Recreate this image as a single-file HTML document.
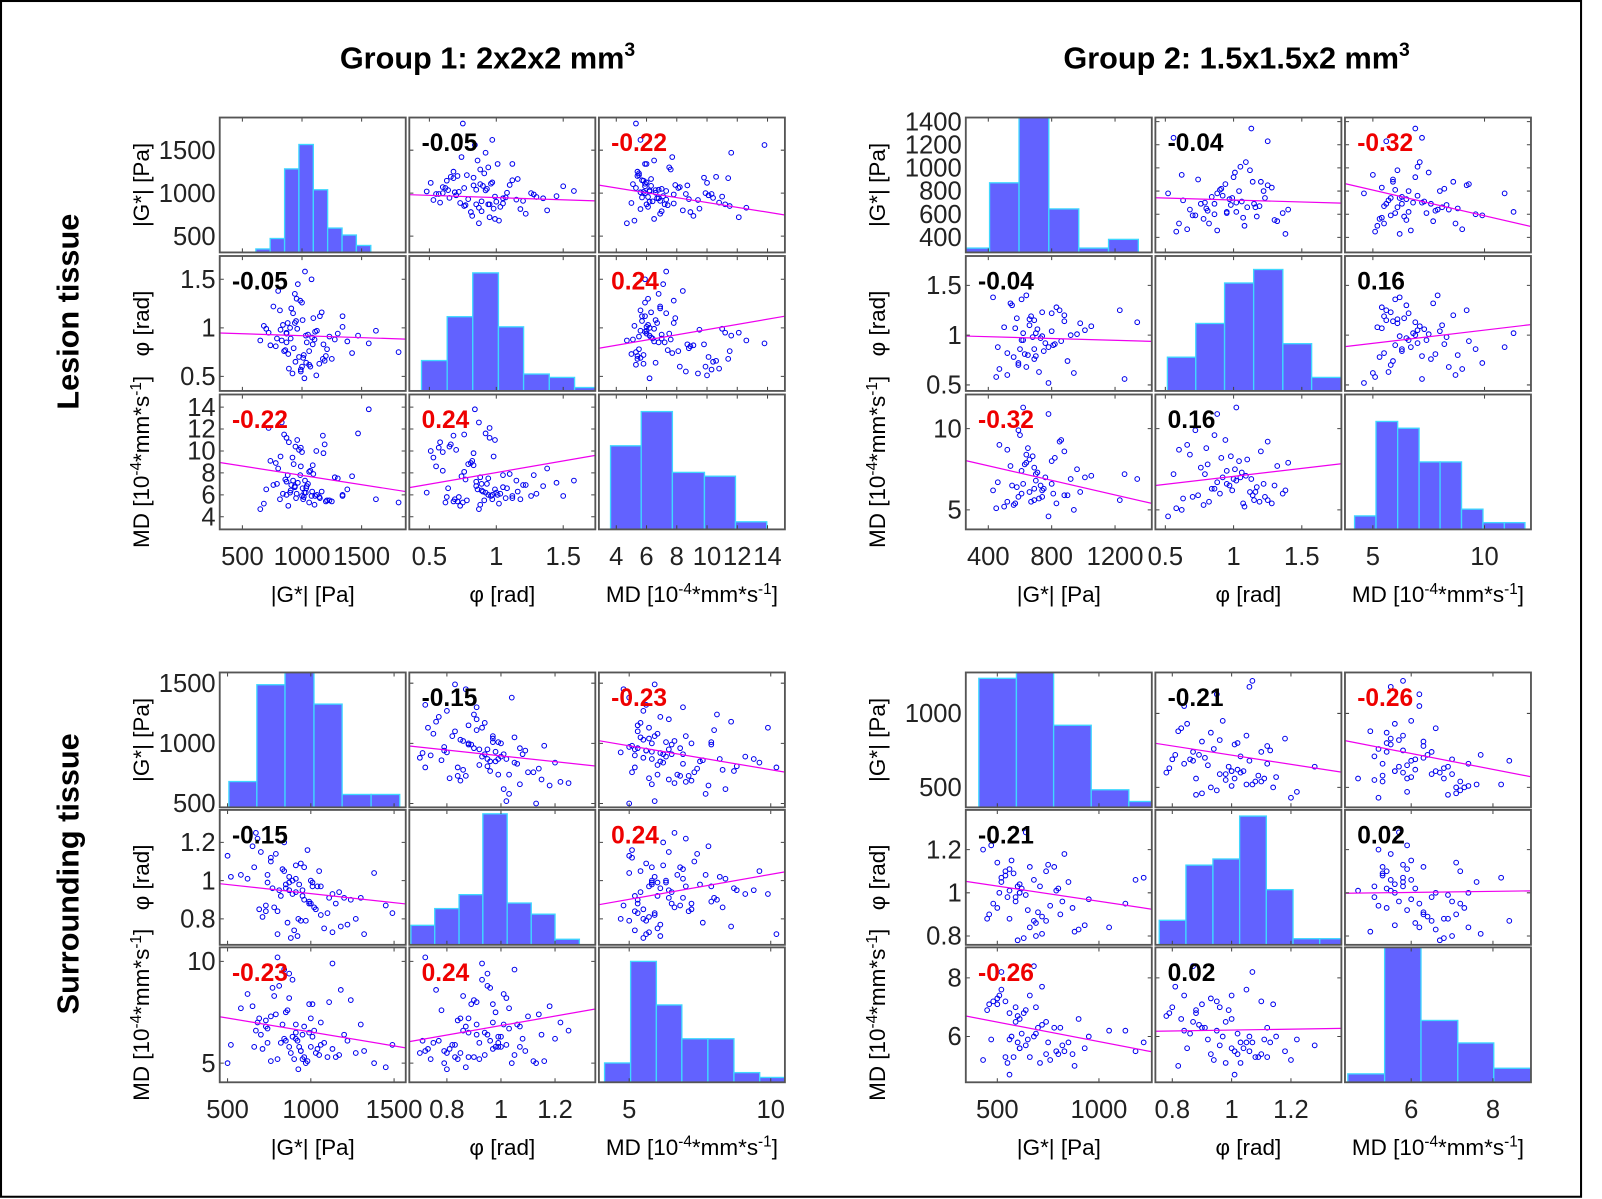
<!DOCTYPE html>
<html><head><meta charset="utf-8"><title>Scatter matrices</title>
<style>
html,body{margin:0;padding:0;background:#fff;}
svg{display:block;}
text{font-family:"Liberation Sans",Arial,sans-serif;}
</style></head>
<body>
<svg id="fig" width="1602" height="1199" viewBox="0 0 1567.5 1173.2" preserveAspectRatio="none" xmlns="http://www.w3.org/2000/svg">
<rect x="1" y="1" width="1546" height="1170" fill="#fff" stroke="#000" stroke-width="2"/>
<text x="477" y="67" text-anchor="middle" font-size="30" font-weight="bold">Group 1: 2x2x2 mm<tspan font-size="19" dy="-12">3</tspan></text>
<text x="1210" y="67" text-anchor="middle" font-size="30" font-weight="bold">Group 2: 1.5x1.5x2 mm<tspan font-size="19" dy="-12">3</tspan></text>
<text transform="translate(77,305) rotate(-90)" text-anchor="middle" font-size="30" font-weight="bold">Lesion tissue</text>
<text transform="translate(77,855) rotate(-90)" text-anchor="middle" font-size="30" font-weight="bold">Surrounding tissue</text>
<g id="plots"></g>
</svg>
<script>
// ===== Group 1, lesion tissue =====
const g1lG = [1032,880,1210,945,760,1105,990,1340,870,1015, 925,1180,700,1060,830,955,1420,1110,890,1005, 780,1250,965,1085,850,1150,920,1040,680,1300, 975,1125,815,1070,905,1560,1000,860,1190,940, 1230,735,1020,1095,885,960,1380,800,1145,1050, 910,1810,990,840,1275,1010,720,1165,930,1080, 870,1470,950,1035,820,1200,985,650,1120,900, 1060,1340,790,1000,1620,940,1090,870,1175,1025];
const g1lPhi = [0.92,1.05,0.78,0.65,1.22,0.88,0.55,1.01,0.95,0.72, 1.15,0.83,0.99,0.62,0.87,1.30,0.74,0.96,0.58,1.08, 0.81,0.68,1.45,0.90,0.76,1.12,0.53,0.85,1.02,0.94, 0.70,0.97,1.18,0.60,0.89,0.84,1.26,0.77,0.66,1.05, 0.91,0.82,0.48,1.10,0.73,0.99,0.86,1.38,0.63,0.93, 1.20,0.75,0.57,1.03,0.88,0.69,0.95,1.16,0.79,1.50, 0.85,0.92,1.07,0.64,0.98,0.71,1.28,0.87,0.51,1.00, 0.76,1.12,0.89,0.60,0.97,1.35,0.83,0.94,0.68,1.58];
const g1lMD = [6.2,7.8,5.5,10.4,6.9,5.1,8.6,6.0,11.2,5.8, 7.3,9.8,6.5,5.3,12.6,6.1,7.7,5.9,10.8,6.6, 8.9,5.4,7.1,6.3,11.5,5.7,9.4,6.8,5.2,7.5, 10.1,6.0,5.6,8.2,6.4,13.8,5.9,7.4,10.6,6.7, 5.5,9.1,6.2,7.9,5.0,11.0,6.5,8.4,5.8,7.0, 6.9,5.3,10.3,6.1,7.6,5.6,12.1,6.3,8.8,5.9, 7.2,11.6,5.7,6.6,9.5,5.4,7.8,4.7,10.0,6.2, 8.1,5.9,7.0,9.9,5.6,6.8,8.7,6.0,11.4,7.3];
const g1lHistGEdges = [613,733,854,974,1095,1215,1336,1456,1577];
const g1lHistGCounts = [1,4,24,31,18,7,5,2];
const g1lHistPhiEdges = [0.441,0.633,0.824,1.016,1.204,1.396,1.585,1.775];
const g1lHistPhiCounts = [9,22,35,19,5,4,1];
const g1lHistMDEdges = [3.62,5.65,7.71,9.83,11.88,13.95];
const g1lHistMDCounts = [22,31,15,14,2];
const g1lCorr = [-0.05,-0.22,0.24];
const g1lSig = [0,1,1];
const g1lFitLeft = [982,1093,0.947,0.79,8.95,6.66];
const g1lFitRight = [910,746,0.884,1.12,6.3,9.6];

// ===== Group 2, lesion tissue =====
const g2lG = [700,520,850,610,940,660,430,780,590,1010, 730,880,560,640,810,470,690,1260,620,750, 540,900,680,800,450,710,600,980,650,830, 760,580,1230,640,920,500,690,860,610,720, 800,460,670,1050,590,740,880,630,550,780, 690,960,520,740,620,1340,700,570,820,660];
const g2lPhi = [1.02,0.82,1.25,0.95,0.62,1.10,1.38,0.88,0.70,1.05, 0.97,1.20,0.78,1.40,0.90,0.66,1.15,0.56,1.02,0.84, 1.32,0.74,0.98,1.22,0.58,1.06,0.86,1.12,0.80,1.28, 0.92,1.17,1.25,0.68,1.00,1.08,0.76,0.94,1.36,0.63, 1.04,0.88,1.19,1.09,0.72,0.99,1.14,0.81,1.30,0.52, 0.86,1.01,0.60,1.23,0.95,1.13,0.79,1.07,0.91,1.16];
const g2lMD = [6.8,5.5,9.2,7.4,5.0,8.1,6.2,10.9,5.8,7.0, 6.5,8.6,5.3,7.9,6.0,9.0,5.6,7.2,11.3,6.3, 7.7,5.9,8.3,6.6,5.1,7.3,9.6,6.1,8.8,5.4, 7.0,6.4,5.6,8.4,6.9,5.2,7.6,9.3,6.0,5.7, 8.0,6.7,5.5,7.1,9.9,6.2,5.9,7.8,6.5,4.6, 6.3,7.5,8.7,5.8,6.6,6.9,7.2,5.4,8.2,6.1];
const g2lHistGEdges = [258,408,594,782,971,1159,1347];
const g2lHistGCounts = [1,16,34,10,1,3];
const g2lHistPhiEdges = [0.515,0.723,0.934,1.147,1.361,1.572,1.789];
const g2lHistPhiCounts = [5,10,16,18,7,2];
const g2lHistMDEdges = [4.18,5.14,6.11,7.07,8.01,8.97,9.93,10.89,11.81];
const g2lHistMDCounts = [2,16,15,10,10,3,1,1];
const g2lCorr = [-0.04,-0.32,0.16];
const g2lSig = [0,1,0];
const g2lFitLeft = [742,864,0.991,0.885,8.03,6.50];
const g2lFitRight = [696,494,0.938,1.106,5.40,7.84];

// ===== Group 1, surrounding tissue =====
const g1sG = [820,1050,690,930,1180,760,990,870,1320,910, 1100,650,850,970,740,1240,880,1010,790,1450, 960,710,1130,840,900,1060,520,780,1200,940, 860,1000,670,1150,810,920,1380,730,1040,890, 700,990,1270,830,950,620,1080,870,760,1020, 1170,800,910,1490,850,980,730,1110,940,580, 890,1030,770,1220,680,960,840,1060,910,500, 1000,740,1130,870,950,800,1300,660,1010,925];
const g1sPhi = [0.92,1.05,0.85,0.98,0.76,1.12,0.88,0.95,0.72,1.01, 0.83,1.18,0.96,0.79,1.03,0.90,0.70,0.99,1.14,0.87, 1.07,0.81,0.93,1.20,0.74,0.97,1.02,0.86,0.91,1.09, 0.78,1.00,1.25,0.88,0.95,0.71,1.04,0.84,0.97,0.93, 1.15,0.89,0.80,1.06,0.92,1.01,0.75,0.99,1.10,0.86, 0.94,0.72,1.08,0.83,0.98,1.16,0.87,0.91,0.79,1.03, 1.00,0.85,0.96,0.77,1.22,0.90,1.05,0.82,0.94,1.13, 0.88,0.99,0.73,1.02,0.95,0.84,0.91,1.07,0.97,0.80];
const g1sMD = [6.0,5.4,7.2,5.8,8.6,5.1,6.5,9.4,5.6,6.9, 5.3,7.8,6.1,5.0,6.7,8.1,5.5,6.3,7.4,4.8, 6.8,5.7,9.9,6.2,5.2,7.0,5.9,8.3,6.4,5.6, 7.6,5.8,6.6,5.3,8.8,6.1,5.0,7.1,5.7,9.1, 6.4,7.9,5.5,6.9,5.2,8.4,6.0,5.8,7.3,6.6, 5.4,10.2,6.2,5.9,7.5,5.1,6.8,8.0,5.6,7.7, 6.3,5.5,8.7,6.1,7.0,5.3,9.6,5.9,6.5,5.0, 7.2,6.0,5.7,8.2,6.4,5.2,6.9,5.8,7.9,4.7];
const g1sHistGEdges = [508,676,845,1019,1188,1362,1534];
const g1sHistGCounts = [4,19,23,16,2,2];
const g1sHistPhiEdges = [0.667,0.755,0.845,0.933,1.023,1.112,1.200,1.290];
const g1sHistPhiCounts = [7,13,18,47,15,11,2];
const g1sHistMDEdges = [4.13,5.05,5.96,6.86,7.78,8.70,9.61,10.5];
const g1sHistMDCounts = [4,25,16,9,9,2,1];
const g1sCorr = [-0.15,-0.23,0.24];
const g1sSig = [0,1,1];
const g1sFitLeft = [978,1022,0.984,0.874,7.28,6.06];
const g1sFitRight = [812,761,0.878,1.046,5.75,7.66];

// ===== Group 2, surrounding tissue =====
const g2sG = [620,480,740,560,850,690,430,590,930,520, 650,780,510,1180,600,710,460,820,570,680, 540,900,640,750,500,610,1050,560,720,830, 590,470,690,800,1220,630,540,760,610,880, 700,520,640,950,580,450,790,660,560,1130, 610,740,500,870,680,550,720,600,810,660];
const g2sPhi = [1.02,0.95,1.10,0.88,1.05,0.80,1.20,0.98,0.85,1.07, 0.92,1.12,1.00,1.06,0.78,1.03,0.90,0.96,1.15,0.87, 1.08,0.83,0.99,1.13,0.93,1.04,0.84,1.01,0.89,1.18, 0.96,1.22,0.86,1.02,1.07,0.79,1.10,0.94,1.00,0.82, 0.91,1.05,1.28,0.97,1.09,0.88,1.01,0.84,1.11,0.95, 1.00,0.87,1.14,0.93,1.06,0.98,0.81,1.03,0.90,1.12];
const g2sMD = [6.1,7.2,5.4,6.8,5.8,7.0,5.2,6.5,5.6,8.2, 5.9,6.3,7.4,5.5,6.7,5.1,7.1,5.7,6.0,8.4, 5.3,6.6,6.9,5.8,7.3,5.6,6.2,4.7,6.4,5.5, 7.0,5.9,6.1,5.4,5.8,6.8,7.2,5.2,6.6,5.0, 6.3,7.6,5.7,6.0,5.3,6.9,5.5,7.4,5.9,6.2, 5.6,6.5,7.1,5.4,6.0,5.1,7.7,5.8,6.3,5.3];
const g2sHistGEdges = [409,594,777,962,1147,1332];
const g2sHistGCounts = [22,25,14,3,1];
const g2sHistPhiEdges = [0.756,0.846,0.937,1.027,1.117,1.207,1.297,1.388];
const g2sHistPhiCounts = [4,13,14,21,9,1,1];
const g2sHistMDEdges = [4.45,5.35,6.24,7.14,8.02,8.93];
const g2sHistMDCounts = [3,52,22,14,5];
const g2sCorr = [-0.21,-0.26,0.02];
const g2sSig = [0,1,0];
const g2sFitLeft = [798,816,1.053,0.998,6.70,6.18];
const g2sFitRight = [603,572,0.924,1.009,5.48,6.28];

// ===== axis settings =====
const g1lXTicks = [[500,1000,1500],[0.5,1,1.5],[4,6,8,10,12,14]];
const g1lYTicks = [[500,1000,1500],[0.5,1,1.5],[4,6,8,10,12,14]];
const g2lXTicks = [[400,800,1200],[0.5,1,1.5],[5,10]];
const g2lYTicks = [[400,600,800,1000,1200,1400],[0.5,1,1.5],[5,10]];
const g1sXTicks = [[500,1000,1500],[0.8,1,1.2],[5,10]];
const g1sYTicks = [[500,1000,1500],[0.8,1,1.2],[5,10]];
const g2sXTicks = [[500,1000],[0.8,1,1.2],[6,8]];
const g2sYTicks = [[500,1000],[0.8,1,1.2],[6,8]];

const matrices = [
 {key:'g1-lesion', x0:215, y0:115, dy:135.5, ttl:77,
  data:[g1lG,g1lPhi,g1lMD], xR:[[310,1870],[0.35,1.74],[2.85,15.15]], yR:[[310,1880],[0.35,1.74],[2.85,15.15]],
  hE:[g1lHistGEdges,g1lHistPhiEdges,g1lHistMDEdges], hC:[g1lHistGCounts,g1lHistPhiCounts,g1lHistMDCounts], hMax:[38.75,40,35.5],
  corr:g1lCorr, sig:g1lSig, fl:g1lFitLeft, fr:g1lFitRight, xt:g1lXTicks, yt:g1lYTicks},
 {key:'g2-lesion', x0:945, y0:115, dy:135.5, ttl:87,
  data:[g2lG,g2lPhi,g2lMD], xR:[[258,1432],[0.427,1.79],[3.75,12.08]], yR:[[270,1435],[0.44,1.795],[3.8,12.1]],
  hE:[g2lHistGEdges,g2lHistPhiEdges,g2lHistMDEdges], hC:[g2lHistGCounts,g2lHistPhiCounts,g2lHistMDCounts], hMax:[31,20,20],
  corr:g2lCorr, sig:g2lSig, fl:g2lFitLeft, fr:g2lFitRight, xt:g2lXTicks, yt:g2lYTicks},
 {key:'g1-surrounding', x0:215, y0:658, dy:134.5, ttl:77,
  data:[g1sG,g1sPhi,g1sMD], xR:[[453,1570],[0.661,1.349],[3.93,10.5]], yR:[[468,1589],[0.664,1.37],[4.06,10.69]],
  hE:[g1sHistGEdges,g1sHistPhiEdges,g1sHistMDEdges], hC:[g1sHistGCounts,g1sHistPhiCounts,g1sHistMDCounts], hMax:[20.9,48.4,27.9],
  corr:g1sCorr, sig:g1sSig, fl:g1sFitLeft, fr:g1sFitRight, xt:g1sXTicks, yt:g1sYTicks},
 {key:'g2-surrounding', x0:945, y0:658, dy:134.5, ttl:87,
  data:[g2sG,g2sPhi,g2sMD], xR:[[345,1260],[0.743,1.37],[4.38,8.93]], yR:[[365,1277],[0.759,1.384],[4.44,9.04]],
  hE:[g2sHistGEdges,g2sHistPhiEdges,g2sHistMDEdges], hC:[g2sHistGCounts,g2sHistPhiCounts,g2sHistMDCounts], hMax:[23,22,48],
  corr:g2sCorr, sig:g2sSig, fl:g2sFitLeft, fr:g2sFitRight, xt:g2sXTicks, yt:g2sYTicks}
];

const NS = 'http://www.w3.org/2000/svg';
const root = document.getElementById('plots');
function mk(tag, attrs, parent){
  const e = document.createElementNS(NS, tag);
  for (const k in attrs) e.setAttribute(k, attrs[k]);
  (parent||root).appendChild(e);
  return e;
}
const PW = 182, PH = 132, DX = 185.5;
const varNames = ['g','phi','md'];
const fitKeys = ['01','02','10','12','20','21'];
const pairIdx = {'01':0,'10':0,'02':1,'20':1,'12':2,'21':2};
let clipId = 0;

function addTitle(parent, kind, x, y, rotate, name){
  const t = mk('text', {'text-anchor':'middle','font-size':'22',
    transform: rotate ? `translate(${x},${y}) rotate(-90)` : `translate(${x},${y})`}, parent);
  
  
  if (kind === 0) { t.textContent = '|G*| [Pa]'; }
  else if (kind === 1) { t.textContent = 'φ [rad]'; }
  else {
    t.appendChild(document.createTextNode('MD [10'));
    const s1 = mk('tspan', {'font-size':'15', dy:'-8'}, t); s1.textContent = '-4';
    const s2 = mk('tspan', {dy:'8'}, t); s2.textContent = '*mm*s';
    const s3 = mk('tspan', {'font-size':'15', dy:'-8'}, t); s3.textContent = '-1';
    const s4 = mk('tspan', {dy:'8'}, t); s4.textContent = ']';
  }
}

matrices.forEach(m => {
  const g = mk('g', {});
  
  
  for (let r = 0; r < 3; r++) {
    for (let c = 0; c < 3; c++) {
      const px = m.x0 + c*DX, py = m.y0 + r*m.dy;
      const xr = m.xR[c];
      const sx = v => px + (v - xr[0]) / (xr[1] - xr[0]) * PW;
      const pg = mk('g', {}, g);
      
      
      clipId++;
      const cp = mk('clipPath', {id:'cp'+clipId}, pg);
      mk('rect', {x:px, y:py, width:PW, height:PH}, cp);
      const inner = mk('g', {'clip-path':`url(#cp${clipId})`}, pg);
      if (r === c) {
        const edges = m.hE[r], counts = m.hC[r], ymax = m.hMax[r];
        const sy = v => py + PH - v / ymax * PH;
        counts.forEach((cnt, i) => {
          const x1 = sx(edges[i]), x2 = sx(edges[i+1]);
          const b = mk('rect', {x:x1, y:sy(cnt), width:x2-x1, height:py+PH-sy(cnt), fill:'#6262ff', stroke:'#3fd8ff', 'stroke-width':'1.3'}, inner);
          
          
        });
      } else {
        const yr = m.yR[r];
        const sy = v => py + PH - (v - yr[0]) / (yr[1] - yr[0]) * PH;
        const xs = m.data[c], ys = m.data[r];
        xs.forEach((xv, i) => {
          const pt = mk('circle', {cx:sx(xv), cy:sy(ys[i]), r:'2.3', fill:'none', stroke:'#0000ee', 'stroke-width':'1'}, inner);
          
          
        });
        const fi = fitKeys.indexOf(`${r}${c}`);
        const ln = mk('line', {x1:sx(xr[0]), y1:sy(m.fl[fi]), x2:sx(xr[1]), y2:sy(m.fr[fi]), stroke:'#ee00ee', 'stroke-width':'1.2'}, inner);
        
        
        m.yt[r].forEach(tv => {
          const yy = sy(tv);
          if (yy > py + 1 && yy < py + PH - 1) {
            mk('line', {x1:px, y1:yy, x2:px+4, y2:yy, stroke:'#444', 'stroke-width':'1'}, inner);
            mk('line', {x1:px+PW-4, y1:yy, x2:px+PW, y2:yy, stroke:'#444', 'stroke-width':'1'}, inner);
          }
        });
        const pi = pairIdx[`${r}${c}`];
        const val = m.corr[pi];
        const ct = mk('text', {x:px+12, y:py+33, 'font-size':'24', 'font-weight':'bold', fill: m.sig[pi] ? '#ee0000' : '#000'}, pg);
        
        
        ct.textContent = val.toFixed(2);
      }
      m.xt[c].forEach(tv => {
        const xx = sx(tv);
        if (xx > px + 1 && xx < px + PW - 1) {
          mk('line', {x1:xx, y1:py+PH, x2:xx, y2:py+PH-4, stroke:'#444', 'stroke-width':'1'}, inner);
          mk('line', {x1:xx, y1:py, x2:xx, y2:py+4, stroke:'#444', 'stroke-width':'1'}, inner);
        }
      });
      const fr = mk('rect', {x:px, y:py, width:PW, height:PH, fill:'none', stroke:'#555', 'stroke-width':'1.8'}, pg);
      
      

      if (c === 0) {
        const yr = m.yR[r];
        const sy = v => py + PH - (v - yr[0]) / (yr[1] - yr[0]) * PH;
        m.yt[r].forEach(tv => {
          const t = mk('text', {x:px-4, y:sy(tv)+8.5, 'text-anchor':'end', 'font-size':'25', fill:'#222'}, g);
          
          
          t.textContent = String(tv);
        });
        addTitle(g, r, px - m.ttl + 8, py + PH/2, true, `${m.key}-y-axis-title-${varNames[r]}`);
      }
      if (r === 2) {
        m.xt[c].forEach(tv => {
          const t = mk('text', {x:sx(tv), y:py+PH+35, 'text-anchor':'middle', 'font-size':'25', fill:'#222'}, g);
          
          
          t.textContent = String(tv);
        });
        addTitle(g, c, px + PW/2, py + PH + 71, false, `${m.key}-x-axis-title-${varNames[c]}`);
      }
    }
  }
});
</script>
</body></html>
